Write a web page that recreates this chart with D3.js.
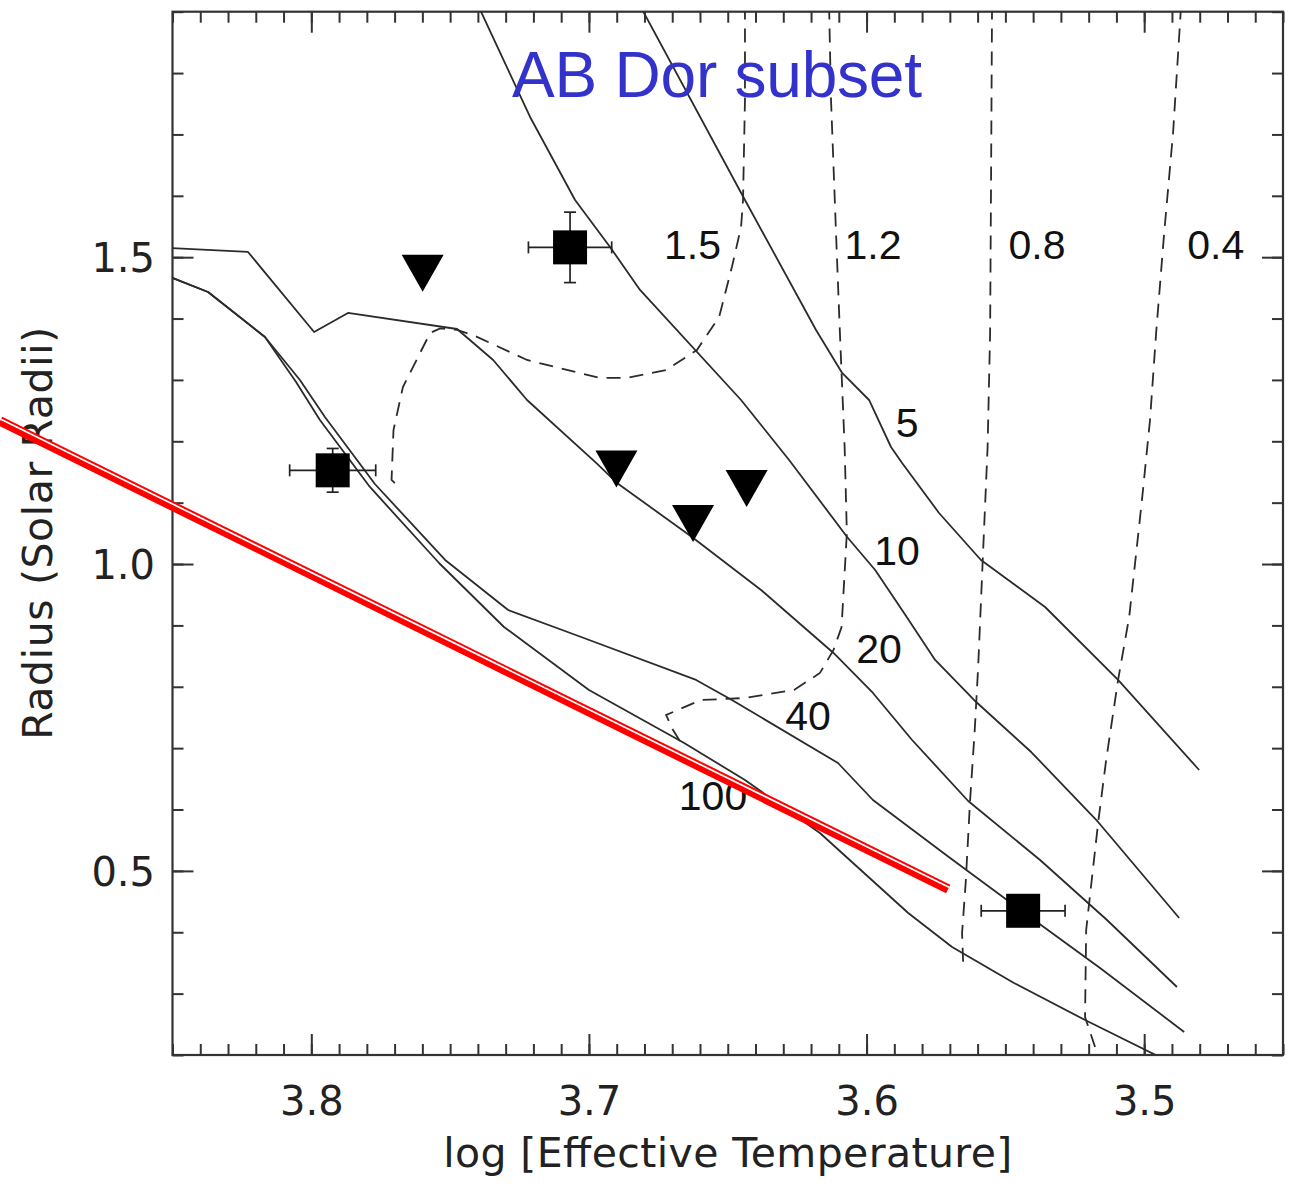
<!DOCTYPE html>
<html>
<head>
<meta charset="utf-8">
<script src="https://cdn.jsdelivr.net/npm/d3@7"></script>
<style>
  html, body { margin: 0; padding: 0; background: #fff; }
  svg { display: block; }
</style>
</head>
<body>
<svg id="chart" width="1298" height="1189"></svg>
<script>
// ---- Isochrones (solid): [log Teff, R/Rsun] ----
const iso5 = [[3.6816,1.91],[3.6438,1.5932],[3.6182,1.3814],[3.6088,1.3113],[3.5991,1.2673],[3.5912,1.1907],[3.5872,1.1647],[3.5739,1.0832],[3.5588,1.0066],[3.5357,0.930],[3.5094,0.8111],[3.4802,0.6644]];
const iso10 = [[3.7399,1.91],[3.7212,1.7285],[3.705,1.5932],[3.6924,1.5166],[3.6816,1.4466],[3.6452,1.2673],[3.6279,1.1696],[3.607,1.0441],[3.5969,0.9903],[3.5865,0.9202],[3.5753,0.8437],[3.5613,0.7785],[3.5407,0.6937],[3.5166,0.5797],[3.4874,0.4232]];
const iso20 = [[3.851,1.515],[3.8228,1.5085],[3.799,1.3781],[3.7868,1.4091],[3.7475,1.383],[3.7345,1.3325],[3.7223,1.2673],[3.6974,1.1647],[3.6899,1.1321],[3.6629,1.0441],[3.638,0.9577],[3.6119,0.8551],[3.5977,0.7899],[3.5836,0.7133],[3.5634,0.6139],[3.5375,0.5178],[3.5134,0.42],[3.4882,0.3108]];
const iso40 = [[3.851,1.4678],[3.8372,1.4433],[3.8167,1.370],[3.8041,1.2999],[3.7951,1.2396],[3.7771,1.1304],[3.7518,1.0066],[3.7291,0.9251],[3.7028,0.8811],[3.6614,0.8111],[3.6485,0.7785],[3.6103,0.6758],[3.5977,0.6155],[3.5699,0.521],[3.5436,0.433],[3.5159,0.3418],[3.4856,0.2375]];
const iso100 = [[3.851,1.4678],[3.8372,1.4433],[3.8167,1.370],[3.8055,1.2967],[3.7969,1.2347],[3.7789,1.1256],[3.754,1.0017],[3.7306,0.8974],[3.70,0.7948],[3.6657,0.7084],[3.6438,0.6481],[3.6168,0.5618],[3.585,0.4314],[3.5692,0.376],[3.5469,0.3173],[3.5213,0.257],[3.4914,0.19]];

// ---- Mass tracks (dashed) ----
const track15 = [[3.6438,1.91],[3.6438,1.7562],[3.6445,1.5932],[3.6452,1.5492],[3.6485,1.484],[3.6531,1.4026],[3.6611,1.3488],[3.6722,1.3162],[3.6866,1.3032],[3.696,1.3032],[3.7223,1.3325],[3.7418,1.3732],[3.7475,1.3814],[3.7536,1.384],[3.7572,1.3765],[3.767,1.2885],[3.7704,1.2184],[3.7711,1.137],[3.7684,1.1256]];
const track12 = [[3.6135,1.91],[3.6128,1.7562],[3.611,1.5394],[3.6096,1.3765],[3.6079,1.1907],[3.6071,1.0506],[3.609,0.8974],[3.6119,0.86],[3.6168,0.8225],[3.6261,0.7948],[3.6438,0.7817],[3.6596,0.7785],[3.6722,0.754],[3.6697,0.7296],[3.6668,0.7084]];
const track08 = [[3.5548,1.91],[3.5552,1.5932],[3.5555,1.3765],[3.5564,1.1907],[3.558,1.0229],[3.5598,0.8323],[3.5611,0.7247],[3.5627,0.6155],[3.5643,0.4803],[3.5656,0.3988],[3.5652,0.3499]];
const track04 = [[3.4867,1.91],[3.4896,1.7024],[3.4928,1.5394],[3.4957,1.3765],[3.4979,1.2347],[3.5008,1.1044],[3.5054,0.9137],[3.5094,0.8111],[3.5137,0.6807],[3.5166,0.578],[3.5209,0.4037],[3.5213,0.2619],[3.5177,0.213]];

// ---- Curve labels: text, log Teff, radius ----
const massLabels = ["1.5", "1.2", "0.8", "0.4"];
const massLabelX = [3.6627, 3.5977, 3.5386, 3.4742];
const massLabelY = [1.5215, 1.5215, 1.5215, 1.5215];
const ageLabels = ["5", "10", "20", "40", "100"];
const ageLabelX = [3.5854, 3.589, 3.5955, 3.6211, 3.6553];
const ageLabelY = [1.2307, 1.0229, 0.8632, 0.754, 0.6237];

// ---- Stars with measured radii (squares, with errors) ----
const starTeff = [3.7068, 3.7923, 3.5436];
const starRad  = [1.516, 1.1527, 0.435];
const starTeffErr = [0.015, 0.0155, 0.0151];
const starRadErr  = [0.0574, 0.0356, 0.02];

// ---- Upper limits (down-pointing triangles) ----
const limTeff = [3.7599, 3.6901, 3.6625, 3.6432];
const limRad  = [1.474, 1.155, 1.066, 1.123];

// ---- Red relation line ----
const redLine = [[3.9121, 1.2331], [3.5706, 0.4705]];

// ---- Axis ticks ----
const xMajor = [3.8, 3.7, 3.6, 3.5];
const xTickLabels = ["3.8", "3.7", "3.6", "3.5"];
const xMinor = d3.range(345, 386).map(v => v / 100);
const yMajor = [0.5, 1.0, 1.5];
const yTickLabels = ["0.5", "1.0", "1.5"];
const yMinor = d3.range(2, 20).map(v => v / 10);

// ---- Layout ----
const W = 1298, H = 1189;
const plot = { left: 172.5, right: 1283, top: 11.7, bottom: 1055 };
const axisColor = "#333";
const tickFont = "'DejaVu Sans', 'Liberation Sans', sans-serif";
const labelFont = "'Liberation Sans', Arial, Helvetica, sans-serif";

const x = d3.scaleLinear().domain([3.85, 3.45]).range([plot.left, plot.right]);
const y = d3.scaleLinear().domain([0.2, 1.9]).range([plot.bottom, plot.top]);

const svg = d3.select("#chart");
svg.append("rect").attr("width", W).attr("height", H).attr("fill", "#fff");

svg.append("defs").append("clipPath").attr("id", "plotClip")
  .append("rect")
  .attr("x", plot.left).attr("y", plot.top)
  .attr("width", plot.right - plot.left).attr("height", plot.bottom - plot.top);

// ---- Axes: inward ticks on all four sides ----
function styleAxis(g) {
  g.select(".domain").remove();
  g.selectAll(".tick line").attr("stroke", axisColor).attr("stroke-width", 2);
  g.selectAll(".tick text")
    .attr("fill", "#222")
    .style("font-family", tickFont)
    .style("font-size", "40px");
}

svg.append("g").attr("transform", `translate(0,${plot.bottom})`)
  .call(d3.axisBottom(x).tickValues(xMinor).tickSize(-11).tickSizeOuter(0).tickFormat(""))
  .call(styleAxis);
svg.append("g").attr("transform", `translate(0,${plot.bottom})`)
  .call(d3.axisBottom(x).tickValues(xMajor).tickSize(-21).tickSizeOuter(0).tickPadding(31.5)
    .tickFormat((d, i) => xTickLabels[i]))
  .call(styleAxis);
svg.append("g").attr("transform", `translate(0,${plot.top})`)
  .call(d3.axisTop(x).tickValues(xMinor).tickSize(-11).tickSizeOuter(0).tickFormat(""))
  .call(styleAxis);
svg.append("g").attr("transform", `translate(0,${plot.top})`)
  .call(d3.axisTop(x).tickValues(xMajor).tickSize(-21).tickSizeOuter(0).tickFormat(""))
  .call(styleAxis);

svg.append("g").attr("transform", `translate(${plot.left},0)`)
  .call(d3.axisLeft(y).tickValues(yMinor).tickSize(-11).tickSizeOuter(0).tickFormat(""))
  .call(styleAxis);
const yLeft = svg.append("g").attr("transform", `translate(${plot.left},0)`)
  .call(d3.axisLeft(y).tickValues(yMajor).tickSize(-21).tickSizeOuter(0).tickPadding(17.5)
    .tickFormat((d, i) => yTickLabels[i]))
  .call(styleAxis);
yLeft.selectAll(".tick text").attr("dy", "0.36em");
svg.append("g").attr("transform", `translate(${plot.right},0)`)
  .call(d3.axisRight(y).tickValues(yMinor).tickSize(-11).tickSizeOuter(0).tickFormat(""))
  .call(styleAxis);
svg.append("g").attr("transform", `translate(${plot.right},0)`)
  .call(d3.axisRight(y).tickValues(yMajor).tickSize(-21).tickSizeOuter(0).tickFormat(""))
  .call(styleAxis);

// Frame
svg.append("rect")
  .attr("x", plot.left).attr("y", plot.top)
  .attr("width", plot.right - plot.left).attr("height", plot.bottom - plot.top)
  .attr("fill", "none").attr("stroke", axisColor).attr("stroke-width", 2.2);

// Axis titles
svg.append("text")
  .attr("x", (plot.left + plot.right) / 2).attr("y", 1167)
  .attr("text-anchor", "middle")
  .attr("textLength", 569).attr("lengthAdjust", "spacing")
  .style("font-family", tickFont).style("font-size", "41px").attr("fill", "#222")
  .text("log [Effective Temperature]");
svg.append("text")
  .attr("transform", `translate(52,${(y(0.2) + y(1.9)) / 2})rotate(-90)`)
  .attr("text-anchor", "middle")
  .attr("textLength", 413).attr("lengthAdjust", "spacing")
  .style("font-family", tickFont).style("font-size", "41px").attr("fill", "#222")
  .text("Radius (Solar Radii)");

// ---- Curves ----
const line = d3.line().x(d => x(d[0])).y(d => y(d[1]));
const curves = svg.append("g").attr("clip-path", "url(#plotClip)");

[iso5, iso10, iso20, iso40, iso100].forEach(c => {
  curves.append("path").attr("d", line(c))
    .attr("fill", "none").attr("stroke", "#2b2b2b").attr("stroke-width", 1.8)
    .attr("stroke-linejoin", "round");
});
[track15, track12, track08, track04].forEach(c => {
  curves.append("path").attr("d", line(c))
    .attr("fill", "none").attr("stroke", "#2b2b2b").attr("stroke-width", 1.8)
    .attr("stroke-dasharray", "14,9");
});

// Curve labels
const labels = svg.append("g")
  .style("font-family", labelFont).style("font-size", "41px").attr("fill", "#111")
  .attr("text-anchor", "middle");
massLabels.forEach((t, i) => {
  labels.append("text").attr("x", x(massLabelX[i])).attr("y", y(massLabelY[i]))
    .attr("dy", "0.36em").text(t);
});
ageLabels.forEach((t, i) => {
  labels.append("text").attr("x", x(ageLabelX[i])).attr("y", y(ageLabelY[i]))
    .attr("dy", "0.36em").text(t);
});

// ---- Stars with error bars ----
const eb = svg.append("g").attr("stroke", "#222").attr("stroke-width", 1.7);
const cap = 6;
starTeff.forEach((t, i) => {
  const cx = x(t), cy = y(starRad[i]);
  const x1 = x(t + starTeffErr[i]), x2 = x(t - starTeffErr[i]);
  const y1 = y(starRad[i] + starRadErr[i]), y2 = y(starRad[i] - starRadErr[i]);
  eb.append("line").attr("x1", x1).attr("x2", x2).attr("y1", cy).attr("y2", cy);
  eb.append("line").attr("x1", x1).attr("x2", x1).attr("y1", cy - cap).attr("y2", cy + cap);
  eb.append("line").attr("x1", x2).attr("x2", x2).attr("y1", cy - cap).attr("y2", cy + cap);
  eb.append("line").attr("x1", cx).attr("x2", cx).attr("y1", y1).attr("y2", y2);
  eb.append("line").attr("x1", cx - cap).attr("x2", cx + cap).attr("y1", y1).attr("y2", y1);
  eb.append("line").attr("x1", cx - cap).attr("x2", cx + cap).attr("y1", y2).attr("y2", y2);
});
const sq = 34;
svg.append("g").selectAll("rect").data(starTeff).join("rect")
  .attr("x", d => x(d) - sq / 2).attr("y", (d, i) => y(starRad[i]) - sq / 2)
  .attr("width", sq).attr("height", sq).attr("fill", "#000");

// ---- Upper limits ----
const tw = 21, th = 18.5;
svg.append("g").selectAll("path").data(limTeff).join("path")
  .attr("transform", (d, i) => `translate(${x(d)},${y(limRad[i])})`)
  .attr("d", `M${-tw},${-th}L${tw},${-th}L0,${th}Z`)
  .attr("fill", "#000");

// ---- Title ----
svg.append("text")
  .attr("x", 512).attr("y", 97)
  .attr("textLength", 410).attr("lengthAdjust", "spacing")
  .style("font-family", labelFont).style("font-size", "64px")
  .attr("fill", "#3333cc")
  .text("AB Dor subset");

// ---- Red relation: thick red stroke with a thin white inner line ----
const ang = Math.atan2(y(redLine[1][1]) - y(redLine[0][1]), x(redLine[1][0]) - x(redLine[0][0]));
const off = 1.9;
svg.append("path").attr("d", line(redLine))
  .attr("stroke", "#ff0000").attr("stroke-width", 9.5).attr("fill", "none");
svg.append("path").attr("d", line(redLine))
  .attr("transform", `translate(${off * Math.sin(ang)},${-off * Math.cos(ang)})`)
  .attr("stroke", "#fff").attr("stroke-width", 1.7).attr("fill", "none");
</script>
</body>
</html>
